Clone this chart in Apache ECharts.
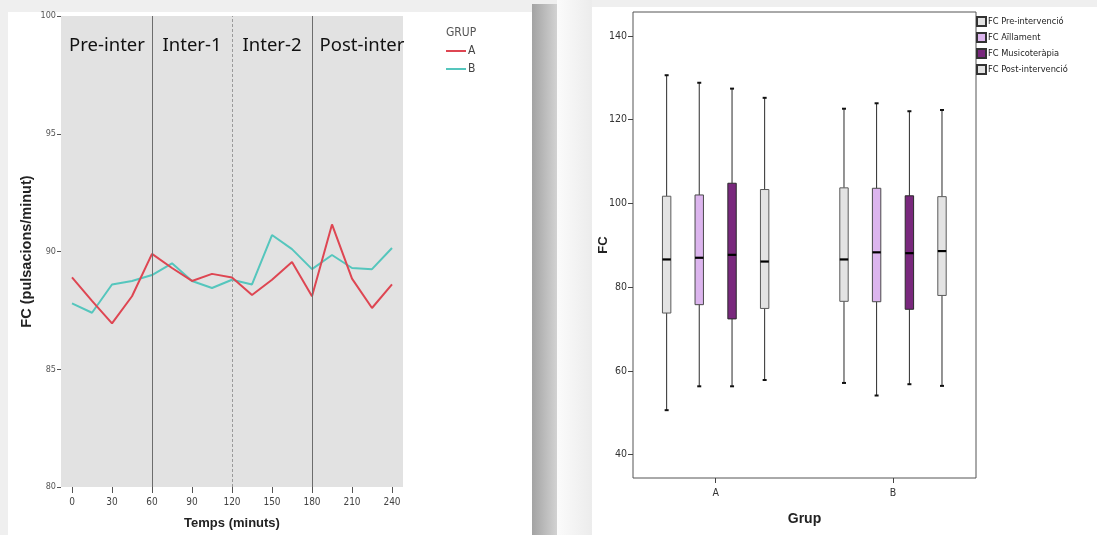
<!DOCTYPE html>
<html>
<head>
<meta charset="utf-8">
<script src="https://cdn.jsdelivr.net/npm/echarts@6/dist/echarts.min.js"></script>
<style>
  html, body { margin: 0; padding: 0; }
  body { width: 1097px; height: 535px; background: #efefef; position: relative; overflow: hidden; }
  .card { position: absolute; background: #ffffff; }
  #leftCard { left: 8px; top: 12px; width: 524px; height: 523px; }
  #leftShadow { left: 532px; top: 4px; width: 25px; height: 531px;
    background: linear-gradient(to right, #a3a3a3, #d2d2d2); }
  #gapFade { position: absolute; left: 557px; top: 0; width: 35px; height: 535px;
    background: linear-gradient(to right, #fbfbfb, #ececec); }
  #rightCard { left: 592px; top: 7px; width: 505px; height: 528px; }
  #chart { position: absolute; left: 0; top: 0; width: 1097px; height: 535px; }
</style>
</head>
<body>
<div id="leftCard" class="card"></div>
<div id="leftShadow" class="card"></div>
<div id="gapFade"></div>
<div id="rightCard" class="card"></div>
<div id="chart"></div>
<script>
// ---- Heart rate over time (pulsacions/minut) ----
const minutes = [0, 15, 30, 45, 60, 75, 90, 105, 120, 135, 150, 165, 180, 195, 210, 225, 240];
const grupA = [88.9, 87.9, 86.95, 88.1, 89.9, 89.3, 88.75, 89.05, 88.9, 88.15, 88.8, 89.55, 88.1, 91.15, 88.85, 87.6, 88.6];
const grupB = [87.8, 87.4, 88.6, 88.75, 89.0, 89.5, 88.75, 88.45, 88.8, 88.6, 90.7, 90.1, 89.25, 89.85, 89.3, 89.25, 90.15];
const timeTicks = [0, 30, 60, 90, 120, 150, 180, 210, 240];
const phaseBounds = [60, 180];       // solid separators
const phaseDashed = [120];           // dashed separator
const phases = [
  { name: 'Pre-inter', from: 0, to: 60 },
  { name: 'Inter-1', from: 60, to: 120 },
  { name: 'Inter-2', from: 120, to: 180 },
  { name: 'Post-inter', from: 180, to: 240 }
];

// ---- Heart rate by group: [min, Q1, median, Q3, max] ----
const groups = ['A', 'B'];
const fcPre = [[50.6, 73.8, 86.6, 101.7, 130.6], [57.1, 76.6, 86.6, 103.7, 122.6]];
const fcAillament = [[56.3, 75.8, 87.0, 102.0, 128.8], [54.1, 76.5, 88.3, 103.6, 123.9]];
const fcMusico = [[56.3, 72.4, 87.7, 104.8, 127.4], [56.8, 74.7, 88.1, 101.8, 122.0]];
const fcPost = [[57.8, 74.9, 86.1, 103.3, 125.2], [56.4, 78.0, 88.6, 101.6, 122.3]];
const fcTicks = [40, 60, 80, 100, 120, 140];

const narrow = "'Liberation Sans Narrow', 'DejaVu Sans Condensed', 'Liberation Sans', Arial, sans-serif";
const sans = "'Liberation Sans', Arial, sans-serif";

const pairs = (xs, ys) => xs.map((x, i) => [x, ys[i]]);
const boxData = rows => rows.map((r, i) => [i + 1].concat(r));

function boxRenderer(offset, fill, stroke) {
  return function (params, api) {
    const g = api.value(0);
    const cx = api.coord([g, api.value(3)])[0] + offset;
    const y = v => api.coord([g, v])[1];
    const yLo = y(api.value(1)), yQ1 = y(api.value(2)), yMd = y(api.value(3));
    const yQ3 = y(api.value(4)), yHi = y(api.value(5));
    const hw = 4.2;
    const whisker = { stroke: '#2a2a2a', lineWidth: 1 };
    return {
      type: 'group',
      children: [
        { type: 'line', shape: { x1: cx, y1: yHi, x2: cx, y2: yQ3 }, style: whisker },
        { type: 'line', shape: { x1: cx, y1: yQ1, x2: cx, y2: yLo }, style: whisker },
        { type: 'rect', shape: { x: cx - 2, y: yHi - 1, width: 4, height: 2 }, style: { fill: '#111' } },
        { type: 'rect', shape: { x: cx - 2, y: yLo - 1, width: 4, height: 2 }, style: { fill: '#111' } },
        { type: 'rect', shape: { x: cx - hw, y: yQ3, width: hw * 2, height: yQ1 - yQ3 },
          style: { fill: fill, stroke: stroke, lineWidth: 1 } },
        { type: 'line', shape: { x1: cx - hw, y1: yMd, x2: cx + hw, y2: yMd },
          style: { stroke: '#000', lineWidth: 2.2 } }
      ]
    };
  };
}

const boxSeries = [
  { name: 'FC Pre-intervenció', rows: fcPre, fill: '#e3e3e3', stroke: '#5a5a5a', offset: -49 },
  { name: 'FC Aïllament', rows: fcAillament, fill: '#dcb5ee', stroke: '#4a4a4a', offset: -16.4 },
  { name: 'FC Musicoteràpia', rows: fcMusico, fill: '#79287d', stroke: '#2a2a2a', offset: 16.4 },
  { name: 'FC Post-intervenció', rows: fcPost, fill: '#e3e3e3', stroke: '#5a5a5a', offset: 49 }
].map(s => ({
  type: 'custom',
  name: s.name,
  xAxisIndex: 1,
  yAxisIndex: 1,
  itemStyle: { color: s.fill, borderColor: '#333', borderWidth: 1 },
  encode: { x: 0, y: [1, 2, 3, 4, 5] },
  data: boxData(s.rows),
  renderItem: boxRenderer(s.offset, s.fill, s.stroke),
  silent: true
}));

const chart = echarts.init(document.getElementById('chart'), null, { renderer: 'canvas' });

chart.setOption({
  backgroundColor: 'transparent',
  animation: false,
  title: {
    text: 'GRUP', left: 446, top: 27, padding: 0,
    textStyle: { fontFamily: narrow, fontSize: 12, fontWeight: 'normal', color: '#555' }
  },
  legend: [
    {
      data: ['A', 'B'], orient: 'vertical', left: 446, top: 45, padding: 0,
      icon: 'rect', itemWidth: 20, itemHeight: 2, itemGap: 6,
      textStyle: { fontFamily: narrow, fontSize: 12, color: '#444', lineHeight: 12, padding: [0, 0, 0, -3] }
    },
    {
      data: boxSeries.map(s => s.name), orient: 'vertical', left: 976, top: 16, padding: 0,
      icon: 'rect', itemWidth: 9, itemHeight: 9, itemGap: 5,
      textStyle: { fontFamily: narrow, fontSize: 9.2, color: '#222', padding: [0, 0, 0, -3] }
    }
  ],
  grid: [
    { left: 61, top: 16, width: 342, height: 477, show: true, backgroundColor: '#e2e2e2', borderWidth: 0 },
    { left: 633, top: 12, width: 343, height: 466, show: true, backgroundColor: '#ffffff',
      borderColor: '#555', borderWidth: 1 }
  ],
  xAxis: [
    {
      type: 'value', gridIndex: 0, min: -8.25, max: 248.25,
      name: 'Temps (minuts)', nameLocation: 'middle', nameGap: 30, nameMoveOverlap: false,
      nameTextStyle: { fontFamily: sans, fontSize: 13, fontWeight: 'bold', color: '#222' },
      splitLine: { show: false }, axisLine: { show: false, onZero: false },
      axisTick: { show: true, customValues: timeTicks, length: 6, lineStyle: { color: '#555' } },
      axisLabel: { customValues: timeTicks, margin: 10, fontFamily: narrow, fontSize: 10, color: '#444' }
    },
    {
      type: 'value', gridIndex: 1, min: 0.534, max: 2.468,
      name: 'Grup', nameLocation: 'middle', nameGap: 34, nameMoveOverlap: false,
      nameTextStyle: { fontFamily: sans, fontSize: 14, fontWeight: 'bold', color: '#222' },
      splitLine: { show: false }, axisLine: { show: false, onZero: false },
      axisTick: { show: true, customValues: [1, 2], length: 5, lineStyle: { color: '#444' } },
      axisLabel: { customValues: [1, 2], formatter: v => groups[v - 1], margin: 10,
        fontFamily: narrow, fontSize: 10.5, color: '#333' }
    }
  ],
  yAxis: [
    {
      type: 'value', gridIndex: 0, min: 80, max: 100, interval: 5,
      name: 'FC (pulsacions/minut)', nameLocation: 'middle', nameGap: 27, nameMoveOverlap: false,
      nameTextStyle: { fontFamily: sans, fontSize: 14.5, fontWeight: 'bold', color: '#222' },
      splitLine: { show: false }, axisLine: { show: false, onZero: false },
      axisTick: { show: true, length: 4, lineStyle: { color: '#555' } },
      axisLabel: { margin: 5, fontFamily: narrow, fontSize: 9, color: '#555' }
    },
    {
      type: 'value', gridIndex: 1, min: 34.4, max: 145.7,
      name: 'FC', nameLocation: 'middle', nameGap: 23, nameMoveOverlap: false,
      nameTextStyle: { fontFamily: sans, fontSize: 13, fontWeight: 'bold', color: '#222' },
      splitLine: { show: false }, axisLine: { show: false, onZero: false },
      axisTick: { show: true, customValues: fcTicks, length: 5, lineStyle: { color: '#444' } },
      axisLabel: { customValues: fcTicks, margin: 6, fontFamily: narrow, fontSize: 10.5, color: '#333' }
    }
  ],
  series: [
    {
      type: 'line', name: 'A', xAxisIndex: 0, yAxisIndex: 0,
      data: pairs(minutes, grupA), showSymbol: false, symbol: 'none',
      color: '#de4652', lineStyle: { width: 2 }, z: 3,
      markLine: {
        silent: true, symbol: 'none', label: { show: false },
        data: phaseBounds.map(v => ({ xAxis: v, lineStyle: { color: '#6d6d6d', width: 1, type: 'solid' } }))
          .concat(phaseDashed.map(v => ({ xAxis: v, lineStyle: { color: '#9a9a9a', width: 1, type: [3, 2] } })))
      },
      markArea: {
        silent: true,
        itemStyle: { color: 'rgba(0,0,0,0)' },
        label: { show: true, position: 'insideTop', distance: 20, fontFamily: "'Noto Sans', sans-serif",
          fontSize: 18.5, color: '#111' },
        data: phases.map((p, i) => [
          { xAxis: p.from, name: p.name, label: { offset: [[-5, 0], [0, 0], [0, 0], [10, 0]][i] } },
          { xAxis: p.to }
        ])
      }
    },
    {
      type: 'line', name: 'B', xAxisIndex: 0, yAxisIndex: 0,
      data: pairs(minutes, grupB), showSymbol: false, symbol: 'none',
      color: '#55c6bd', lineStyle: { width: 2 }, z: 2
    }
  ].concat(boxSeries)
});
</script>
</body>
</html>
